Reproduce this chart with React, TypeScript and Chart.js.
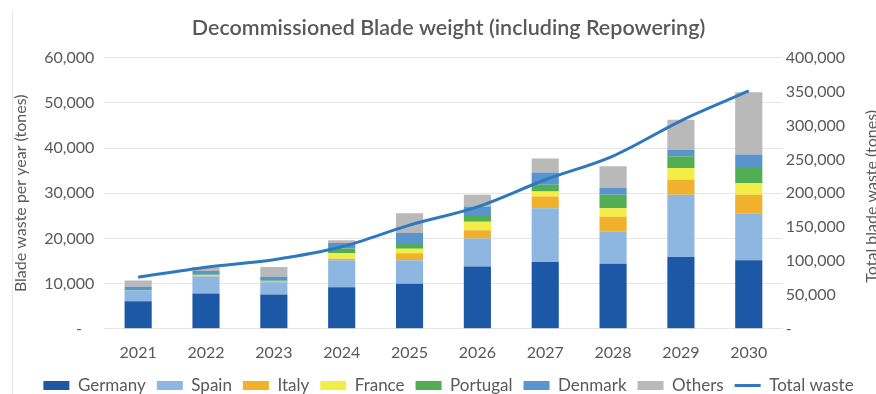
import React, { useEffect, useRef } from "react";
import { Chart, registerables } from "chart.js";

Chart.register(...registerables);

const years = ["2021", "2022", "2023", "2024", "2025", "2026", "2027", "2028", "2029", "2030"];
const germany = [6100, 7800, 7600, 9200, 10000, 13800, 14800, 14400, 15900, 15200];
const spain = [2400, 3800, 2700, 6000, 5200, 6200, 11900, 7100, 13800, 10400];
const italy = [0, 100, 100, 300, 1500, 1800, 2600, 3300, 3300, 4100];
const france = [0, 100, 100, 1200, 1000, 1900, 1100, 1900, 2600, 2600];
const portugal = [100, 200, 200, 1100, 1300, 1500, 1500, 3000, 2600, 3300];
const denmark = [700, 800, 800, 1200, 2200, 1900, 2700, 1500, 1400, 3000];
const others = [1400, 800, 2200, 600, 4400, 2600, 3100, 4800, 6700, 13800];
const totalWaste = [76000, 91000, 102000, 121000, 153000, 180000, 220000, 255000, 307000, 351000];

const leftTitle = "Blade waste per year (tones)";
const rightTitle = "Total blade waste (tones)";

const FONT = "Lato, 'Open Sans', sans-serif";
const GREY = "#595959";

const fmtLeft = (v: number) => (v === 0 ? "-   " : Number(v).toLocaleString("en-US"));
const fmtRight = (v: number) => (v === 0 ? "-" : Number(v).toLocaleString("en-US"));

const shiftPlugin = {
  id: "shiftBlocks",
  afterLayout(chart: any) {
    const t = chart.titleBlock;
    if (t) { t.left += 21; t.right += 21; }
    const l = chart.legend;
    if (l) { l.left += 21; l.right += 21; l.top -= 10; l.bottom -= 10; }
  },
};

const rightTitlePlugin = {
  id: "rightTitle",
  afterDraw(chart: any) {
    const { ctx, chartArea } = chart;
    ctx.save();
    ctx.translate(877, (chartArea.top + chartArea.bottom) / 2 + 3);
    ctx.rotate(-Math.PI / 2);
    ctx.font = `16px ${FONT}`;
    ctx.fillStyle = GREY;
    ctx.textAlign = "center";
    ctx.textBaseline = "alphabetic";
    ctx.fillText(rightTitle, 0, 0);
    ctx.restore();
  },
};

export default function App() {
  const ref = useRef<HTMLCanvasElement | null>(null);

  useEffect(() => {
    if (!ref.current) return;
    const bar = (label: string, data: number[], color: string) => ({
      type: "bar" as const,
      label,
      data,
      backgroundColor: color,
      borderWidth: 0,
      stack: "s",
      yAxisID: "y",
      order: 1,
      pointStyle: "rect",
      barPercentage: 0.4,
      categoryPercentage: 1,
    });
    const chart = new Chart(ref.current, {
      type: "bar",
      data: {
        labels: years,
        datasets: [
          bar("Germany", germany, "#1c58a5"),
          bar("Spain", spain, "#8db7e0"),
          bar("Italy", italy, "#f2b12c"),
          bar("France", france, "#f3ee45"),
          bar("Portugal", portugal, "#52ae55"),
          bar("Denmark", denmark, "#5a94cc"),
          bar("Others", others, "#b9b9b9"),
          {
            type: "line" as const,
            label: "Total waste",
            data: totalWaste,
            borderColor: "#2f78bd",
            backgroundColor: "#2f78bd",
            borderWidth: 3,
            pointRadius: 0,
            cubicInterpolationMode: "monotone",
            yAxisID: "y1",
            order: 0,
            pointStyle: "line",
          } as any,
        ],
      },
      plugins: [shiftPlugin, rightTitlePlugin],
      options: {
        animation: false,
        responsive: true,
        maintainAspectRatio: false,
        layout: { padding: { top: 6, left: 7, right: 28, bottom: 0 } },
        plugins: {
          title: {
            display: true,
            text: "Decommissioned Blade weight (including Repowering)",
            color: GREY,
            font: { family: FONT, size: 21.5, weight: 600 },
            padding: { top: 9, bottom: 17 },
          },
          legend: {
            position: "bottom",
            labels: {
              usePointStyle: true,
              pointStyleWidth: 26,
              boxHeight: 9,
              color: GREY,
              font: { family: FONT, size: 17 },
              padding: 11,
              sort: (a: any, b: any) => a.datasetIndex - b.datasetIndex,
            },
          },
          tooltip: { enabled: false },
        },
        scales: {
          x: {
            stacked: true,
            grid: { display: false, drawTicks: false },
            border: { display: false },
            ticks: { color: GREY, font: { family: FONT, size: 16 }, padding: 14 },
          },
          y: {
            stacked: true,
            position: "left",
            min: 0,
            max: 60000,
            ticks: { stepSize: 10000, color: GREY, font: { family: FONT, size: 16 }, callback: (v: any) => fmtLeft(v), padding: 10 },
            grid: { color: "#e6e6e6", drawTicks: false },
            border: { display: false },
            title: { display: true, text: leftTitle, color: GREY, font: { family: FONT, size: 16 }, padding: { top: 4, bottom: 4 } },
          },
          y1: {
            position: "right",
            min: 0,
            max: 400000,
            ticks: { stepSize: 50000, color: GREY, font: { family: FONT, size: 16 }, callback: (v: any) => fmtRight(v), padding: 3 },
            grid: { display: false, drawTicks: false },
            border: { display: false },
          },
        },
      },
    });
    return () => chart.destroy();
  }, []);

  return (
    <div style={{ position: "fixed", left: 0, top: 0, width: 876, height: 394, overflow: "hidden", background: "#fff" }}>
      <div style={{ position: "absolute", left: 12, top: 10, width: 1, height: 384, background: "#e8e8e8" }} />
      <div style={{ position: "absolute", left: 0, top: 0, width: 876, height: 414 }}>
        <canvas ref={ref} />
      </div>
    </div>
  );
}
